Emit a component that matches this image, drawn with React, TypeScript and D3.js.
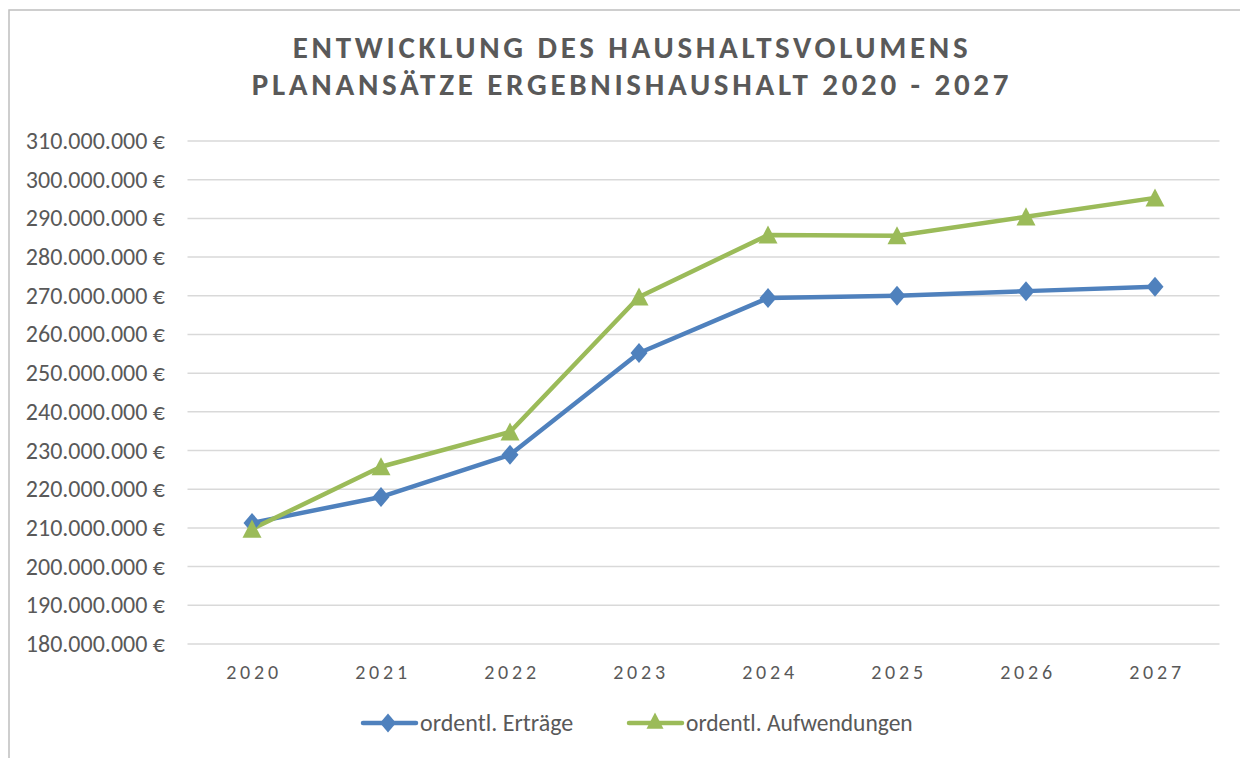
import React from "react";
import * as d3 from "d3";

const years = ["2020", "2021", "2022", "2023", "2024", "2025", "2026", "2027"];
const ertraege = [211.3, 218.0, 228.9, 255.2, 269.4, 270.0, 271.2, 272.3];
const aufwendungen = [209.7, 225.8, 234.8, 269.7, 285.7, 285.5, 290.4, 295.3];
const yTicks = [180, 190, 200, 210, 220, 230, 240, 250, 260, 270, 280, 290, 300, 310];
const seriesNames = ["ordentl. Erträge", "ordentl. Aufwendungen"];
const titleLines = ["ENTWICKLUNG DES HAUSHALTSVOLUMENS", "PLANANSÄTZE ERGEBNISHAUSHALT 2020 - 2027"];

const W = 1240, H = 758;
const left = 187.5, right = 1219.5, top = 141, bottom = 644;
const BLUE = "#4F81BD", GREEN = "#9BBB59", TXT = "#595959";
const font = "Calibri, Carlito, Lato, 'Noto Sans', sans-serif";

export default function App() {
  const x = d3.scaleBand().domain(years).range([left, right]);
  const y = d3.scaleLinear().domain([180, 310]).range([bottom, top]);
  const cx = (yr: string) => (x(yr) as number) + x.bandwidth() / 2;
  const line = d3.line<number>().x((_, i) => cx(years[i])).y((d) => y(d));
  const fmt = (v: number) => d3.format(",")(v * 1e6).replace(/,/g, ".") + " €";
  const diamond = (px: number, py: number, rx = 8.5, ry = 10) => `M${px},${py - ry}L${px + rx},${py}L${px},${py + ry}L${px - rx},${py}Z`;
  const tri = (px: number, py: number, r = 9.5) => `M${px},${py - r}L${px + r},${py + r * 0.9}L${px - r},${py + r * 0.9}Z`;

  return (
    <svg width={W} height={H} style={{ position: "absolute", left: 0, top: 0, background: "#fff" }} fontFamily={font}>
      <rect x={9} y={10} width={1260} height={800} fill="none" stroke="#bfbfbf" strokeWidth={1.5} />
      {titleLines.map((t, i) => (
        <text key={i} x={632} y={58 + i * 37} textAnchor="middle" fontSize={31} fontWeight="bold" letterSpacing={3.7} fill={TXT}>
          {t}
        </text>
      ))}
      {yTicks.map((t) => (
        <g key={t}>
          <line x1={left} x2={right} y1={y(t)} y2={y(t)} stroke="#d9d9d9" strokeWidth={1.5} />
          <text x={165} y={y(t) + 8} textAnchor="end" fontSize={24} fill={TXT}>{fmt(t)}</text>
        </g>
      ))}
      {years.map((yr) => (
        <text key={yr} x={cx(yr) + 2} y={679} textAnchor="middle" fontSize={20} letterSpacing={3.8} fill={TXT}>{yr}</text>
      ))}
      <path d={line(ertraege) as string} fill="none" stroke={BLUE} strokeWidth={4.5} strokeLinejoin="round" />
      <path d={line(aufwendungen) as string} fill="none" stroke={GREEN} strokeWidth={4.5} strokeLinejoin="round" />
      {ertraege.map((v, i) => <path key={"e" + i} d={diamond(cx(years[i]), y(v))} fill={BLUE} />)}
      {aufwendungen.map((v, i) => <path key={"a" + i} d={tri(cx(years[i]), y(v))} fill={GREEN} />)}
      <g>
        <line x1={363} x2={416} y1={723} y2={723} stroke={BLUE} strokeWidth={4.5} strokeLinecap="round" />
        <path d={diamond(388, 723, 8, 9.5)} fill={BLUE} />
        <text x={420} y={731} fontSize={24} fill={TXT}>{seriesNames[0]}</text>
        <line x1={629} x2={682} y1={723} y2={723} stroke={GREEN} strokeWidth={4.5} strokeLinecap="round" />
        <path d={tri(655, 721, 8.5)} fill={GREEN} />
        <text x={686} y={731} fontSize={23.5} fill={TXT}>{seriesNames[1]}</text>
      </g>
    </svg>
  );
}
